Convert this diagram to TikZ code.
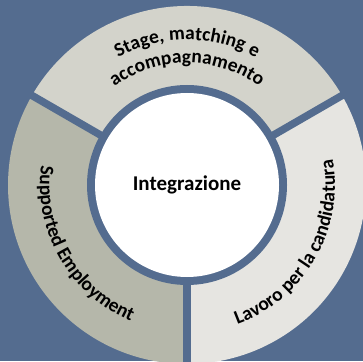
\documentclass[tikz,border=0pt]{standalone}
\usepackage{fontspec}
\setmainfont{Carlito}
\usetikzlibrary{decorations.text}

\definecolor{sfondo}{RGB}{84,108,143}
\definecolor{fasciaA}{RGB}{211,211,203}
\definecolor{fasciaB}{RGB}{230,229,225}
\definecolor{fasciaC}{RGB}{181,183,170}

\tikzset{
  testoarco/.style={decorate, decoration={text along path, text align=center,
      text={|\bfseries\fontsize{19.5}{22}\selectfont|#1}}}
}

\begin{document}
\begin{tikzpicture}
    \def\ri{99pt}    % raggio interno della corona
    \def\ro{179pt}   % raggio esterno della corona
    \def\rc{184pt}   % diametro del cerchio centrale

    % Sfondo
    \fill[sfondo] (0,0) rectangle (363pt,361pt);
    \useasboundingbox (0,0) rectangle (363pt,361pt);

    \begin{scope}[shift={(187pt,176pt)}]
        % Settori della corona
        \fill[fasciaA] (30:\ri) arc (30:150:\ri) -- (150:\ro) arc (150:30:\ro) -- cycle;
        \fill[fasciaC] (150:\ri) arc (150:270:\ri) -- (270:\ro) arc (270:150:\ro) -- cycle;
        \fill[fasciaB] (270:\ri) arc (270:390:\ri) -- (390:\ro) arc (390:270:\ro) -- cycle;

        % Separatori
        \foreach \a in {30,150,270}
            \draw[sfondo, line width=7.5pt] (0,0) -- (\a:190pt);

        % Cerchio centrale
        \fill[sfondo] (0,0) circle (100pt);
        \node[circle, fill=white, minimum size=\rc, inner sep=0pt,
              font=\bfseries\fontsize{21}{24}\selectfont] (integrazione) at (0,0) {Integrazione};

        % Testi lungo la corona
        \path[testoarco={Stage, matching e}] (150:145pt) arc (150:30:145pt);
        \path[testoarco={accompagnamento}] (150:122pt) arc (150:30:122pt);
        \path[testoarco={Supported Employment}] (150:147pt) arc (150:270:147pt);
        \path[testoarco={Lavoro per la candidatura}] (270:148pt) arc (270:390:148pt);
    \end{scope}
\end{tikzpicture}
\end{document}
